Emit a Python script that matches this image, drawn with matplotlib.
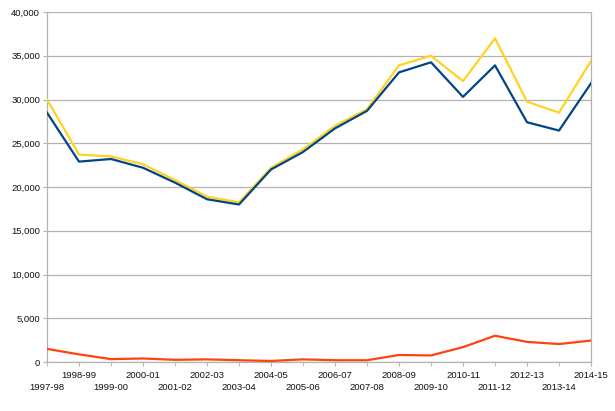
import matplotlib
matplotlib.use("Agg")
import matplotlib.pyplot as plt
from matplotlib.ticker import FuncFormatter

years = ["1997-98", "1998-99", "1999-00", "2000-01", "2001-02", "2002-03",
         "2003-04", "2004-05", "2005-06", "2006-07", "2007-08", "2008-09",
         "2009-10", "2010-11", "2011-12", "2012-13", "2013-14", "2014-15"]

total = [30000, 23700, 23500, 22600, 20800, 18900, 18250, 22200, 24300,
         27000, 28900, 33900, 35000, 32100, 37000, 29750, 28500, 34400]
blue = [28500, 22900, 23200, 22200, 20500, 18600, 18000, 22000, 24000,
        26700, 28700, 33100, 34250, 30300, 33900, 27400, 26450, 31850]
red = [1500, 870, 330, 400, 250, 300, 200, 120, 300,
       200, 200, 800, 750, 1700, 3000, 2300, 2050, 2450]

plt.rcParams['font.family'] = ['Liberation Sans', 'DejaVu Sans']

fig = plt.figure(figsize=(6.15, 4.11), dpi=100)
ax = fig.add_axes([47/615, 1-362/411, (591-47)/615, (362-12)/411])

x = list(range(len(years)))
grid_c = "#b3b3b3"
ax.plot(x, red, color="#FF420E", lw=1.6, zorder=3)
ax.plot(x, total, color="#FFD320", lw=1.6, zorder=3)
ax.plot(x, blue, color="#004586", lw=1.6, zorder=4)

ax.set_xlim(0, len(years) - 1)
ax.set_ylim(0, 40000)
ax.set_yticks(range(0, 40001, 5000))
ax.yaxis.set_major_formatter(FuncFormatter(lambda v, p: f"{int(v):,}"))
ax.grid(axis='y', color=grid_c, lw=0.9)
ax.set_axisbelow(True)

odd = [i for i in x if i % 2 == 1]
even = [i for i in x if i % 2 == 0]
ax.set_xticks(odd, [years[i] for i in odd])
ax.set_xticks(even, [years[i] for i in even], minor=True)
ax.tick_params(axis='x', which='major', length=3.2, color=grid_c, pad=3.5,
               labelsize=6.8, labelcolor="#111111")
ax.tick_params(axis='x', which='minor', length=3.2, color=grid_c, pad=12,
               labelsize=6.8, labelcolor="#111111")
ax.tick_params(axis='y', length=3, color=grid_c, pad=2, labelsize=6.8,
               labelcolor="#111111")

for s in ['left', 'bottom', 'right']:
    ax.spines[s].set_color(grid_c)
    ax.spines[s].set_linewidth(0.9)
ax.spines['top'].set_visible(False)

fig.savefig("out.png", dpi=100)
